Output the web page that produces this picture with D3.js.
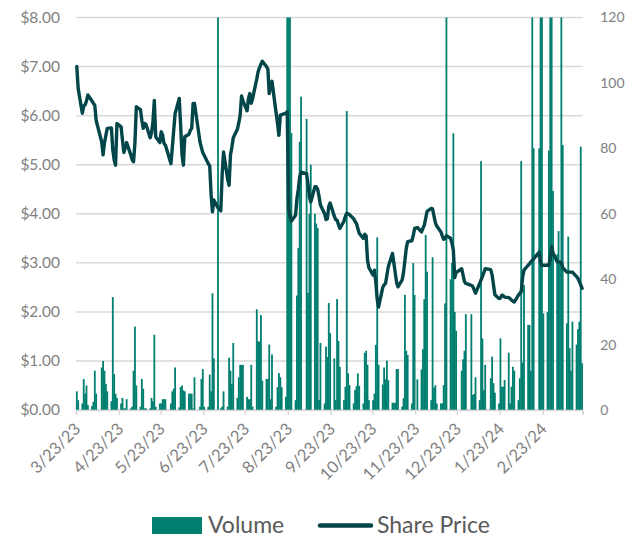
<!DOCTYPE html>
<html>
<head>
<meta charset="utf-8">
<script src="https://cdn.jsdelivr.net/npm/d3@7"></script>
<style>
  body { margin: 0; background: #fff; }
  text { font-family: Lato, "Open Sans", sans-serif; }
</style>
</head>
<body>
<div id="chart"></div>
<script>
const width = 625;
const height = 537;
const margin = {top: 17.5, right: 42.3, bottom: 127, left: 76};

// trading calendar
const startDate = "2023-03-23";
const endDate = "2024-03-22";
const holidays = ["2023-04-07", "2023-05-29", "2023-06-19", "2023-07-04", "2023-09-04",
  "2023-11-23", "2023-12-25", "2024-01-01", "2024-01-15", "2024-02-19"];
const monthTicks = ["2023-03-23", "2023-04-23", "2023-05-23", "2023-06-23", "2023-07-23",
  "2023-08-23", "2023-09-23", "2023-10-23", "2023-11-23", "2023-12-23", "2024-01-23",
  "2024-02-23", "2024-03-23"];
const priceTicks = [0, 1, 2, 3, 4, 5, 6, 7, 8];
const volumeTicks = [0, 20, 40, 60, 80, 100, 120];

// daily volume, one row per month
const volume = [
  5.7, 3, 2, 9.5, 5, 7.5, 1.5,
  1.2, 2.5, 12, 5, 13, 15, 12, 8, 5.7, 2.7, 34.5, 11, 5, 3.7, 2, 3.7, 0.5, 0.5, 3.3,
  0.5, 1, 12, 25.5, 7.5, 1, 9.5, 6.5, 0.5, 0.5, 0.5, 3.7, 2.7, 23, 1, 2, 2, 3.3, 3.3, 3.3, 2, 5.7,
  6.5, 13, 0.8, 7, 7.5, 6, 5.7, 5, 5, 5, 0.5, 10, 1, 9.5, 12.5, 1, 1, 10.8, 5.7, 35.7, 15.8,
  130, 0.5, 1, 5.7, 1, 16, 12, 8, 20.5, 3.7, 10, 13.8, 13.8, 13.8, 4, 3.3, 3.3, 13.8, 1, 30.8,
  21, 20.9, 29, 9, 9.5, 9.5, 20, 3.3, 17, 1, 7, 11.3, 10, 7, 4, 125, 140, 125, 84.7, 3, 35, 49.5, 82,
  95.8, 89, 35.8, 60, 75, 60, 57, 55.6, 3, 20.5, 2, 19.4, 16.2, 32.7, 23.5, 15.8, 3, 33.9, 21.1, 13.2,
  3, 7.1, 91.4, 11.2, 7.6, 2, 6.1, 7.3, 11.2, 7.4, 2, 17.5, 18.1, 13.8, 3, 3, 5, 19.9, 52.8, 13.8, 7.8, 13,
  9.4, 15.1, 9.1, 2.2, 2.2, 2.2, 12.5, 12.5, 1, 3.6, 35.2, 18.1, 16.8, 2, 44.9, 35.2, 9.4, 12.4, 18.6, 33.9, 53.5,
  42.3, 3, 46.7, 6.8, 7.6, 2, 2, 2, 7.6, 32.6, 130, 40, 45, 84.6, 30, 24.2, 12, 15.5, 18.1, 29.3,
  29.3, 4.6, 4.9, 10, 3, 76.1, 21.9, 6.1, 13.8, 9.7, 16.3, 8.2, 5.3, 2, 21.9, 7.1, 7.1, 9.2, 17.5, 2, 7.1,
  13.2, 12, 3, 9.7, 76.1, 14.5, 38.2, 26, 26, 12, 125, 80, 80, 125, 125, 29.5, 30, 79.3, 125, 125,
  67, 47.6, 54.7, 45, 125, 81, 26.5, 53, 18.9, 12, 27, 20, 24.7, 27, 80.5, 14.3
];

// daily closing share price, one row per month
const price = [
  7.00, 6.55, 6.05, 6.20, 6.22, 6.30, 6.42,
  6.30, 6.25, 6.21, 5.90, 5.46, 5.20, 5.45, 5.60, 5.74, 5.75, 5.30, 5.10, 4.99, 5.84, 5.77, 5.50, 5.25, 5.35, 5.45,
  5.20, 5.10, 5.06, 5.45, 6.18, 6.12, 5.90, 5.74, 5.84, 5.82, 5.55, 5.65, 5.87, 6.31, 5.57, 5.45, 5.67, 5.60, 5.43, 5.40, 5.02, 5.35,
  5.70, 6.04, 6.35, 5.80, 5.20, 4.99, 5.57, 5.62, 5.70, 5.74, 6.25, 6.25, 5.46, 5.35, 5.25, 5.19, 5.02, 4.98, 4.40, 4.04, 4.28,
  4.12, 4.06, 4.80, 5.26, 4.70, 4.58, 5.20, 5.35, 5.55, 5.72, 5.85, 6.01, 6.40, 6.30, 6.10, 6.35, 6.45, 6.25, 6.35, 6.75,
  6.90, 6.98, 7.05, 7.11, 7.00, 6.95, 6.45, 6.60, 6.70, 6.05, 5.84, 5.60, 6.01, 6.02, 6.05, 6.08, 4.10, 3.95, 3.85, 3.97, 4.30, 4.50, 4.75,
  4.85, 4.82, 4.60, 4.35, 4.24, 4.55, 4.55, 4.50, 4.35, 4.18, 4.00, 3.88, 3.90, 4.15, 4.22, 3.95, 3.88, 3.87, 3.78, 3.70,
  3.85, 3.95, 4.01, 4.00, 3.98, 3.90, 3.84, 3.80, 3.70, 3.60, 3.50, 3.58, 3.55, 3.05, 2.90, 2.75, 2.85, 2.60, 2.25, 2.10, 2.50, 2.55,
  2.58, 2.75, 2.92, 3.19, 3.00, 2.80, 2.60, 2.51, 2.65, 2.80, 3.05, 3.30, 3.43, 3.45, 3.55, 3.70, 3.72, 3.63, 3.70, 3.77, 3.90,
  4.05, 4.11, 4.10, 3.95, 3.82, 3.75, 3.63, 3.55, 3.48, 3.50, 3.55, 3.50, 3.40, 3.25, 2.70, 2.80, 2.88, 2.75, 2.62, 2.58,
  2.54, 2.52, 2.45, 2.38, 2.58, 2.65, 2.72, 2.80, 2.88, 2.86, 2.75, 2.55, 2.35, 2.27, 2.28, 2.34, 2.33, 2.30, 2.29, 2.27, 2.24,
  2.22, 2.20, 2.34, 2.38, 2.41, 2.70, 2.85, 2.95, 2.98, 3.02, 3.05, 3.08, 3.22, 3.00, 2.95, 2.95, 2.95, 2.95, 3.10, 3.33,
  3.20, 3.02, 3.02, 3.02, 3.00, 2.90, 2.81, 2.81, 2.81, 2.81, 2.81, 2.72, 2.68, 2.62, 2.55, 2.48
];

const parse = d3.utcParse("%Y-%m-%d");
const holidaySet = new Set(holidays);
const dates = d3.utcDay.range(parse(startDate), d3.utcDay.offset(parse(endDate), 1))
  .filter(d => d.getUTCDay() !== 0 && d.getUTCDay() !== 6 && !holidaySet.has(d3.utcFormat("%Y-%m-%d")(d)));
console.log("days", dates.length, volume.length, price.length);

const data = dates.map((d, i) => ({date: d, volume: volume[i], price: price[i]}));

const svg = d3.select("#chart")
  .append("svg")
  .attr("width", width)
  .attr("height", height);

const x = d3.scaleUtc()
  .domain([parse(monthTicks[0]), parse(monthTicks[monthTicks.length - 1])])
  .range([margin.left, width - margin.right]);
const yPrice = d3.scaleLinear().domain([0, 8]).range([height - margin.bottom, margin.top]);
const yVol = d3.scaleLinear().domain([0, 120]).range([height - margin.bottom, margin.top]).clamp(true);

const grey = "#d9d9d9";
const labelColor = "#7f7f7f";
const barColor = "#007f70";
const lineColor = "#03464a";

// gridlines
svg.append("g")
  .selectAll("line")
  .data(priceTicks)
  .join("line")
  .attr("x1", margin.left)
  .attr("x2", width - margin.right)
  .attr("y1", d => yPrice(d))
  .attr("y2", d => yPrice(d))
  .attr("stroke", grey)
  .attr("stroke-width", 1.5);

// left axis
const leftAxis = svg.append("g")
  .attr("transform", `translate(${margin.left - 16},0)`)
  .call(d3.axisLeft(yPrice).tickValues(priceTicks).tickSize(0).tickPadding(0)
    .tickFormat(d => "$" + d3.format(".2f")(d)));
leftAxis.select(".domain").remove();
leftAxis.selectAll("text").attr("fill", labelColor).style("font-size", "15.5px");

// right axis
const rightAxis = svg.append("g")
  .attr("transform", `translate(${width - margin.right + 17.5},0)`)
  .call(d3.axisRight(yVol).tickValues(volumeTicks).tickSize(0).tickPadding(0));
rightAxis.select(".domain").remove();
rightAxis.selectAll("text").attr("fill", labelColor).style("font-size", "14px");

// volume bars
svg.append("g")
  .selectAll("rect")
  .data(data)
  .join("rect")
  .attr("x", d => x(d.date) - 0.1)
  .attr("width", 1.8)
  .attr("y", d => yVol(d.volume))
  .attr("height", d => yVol(0) - yVol(d.volume))
  .attr("fill", barColor);

// x axis
const xAxis = svg.append("g")
  .attr("transform", `translate(0,${height - margin.bottom})`)
  .call(d3.axisBottom(x)
    .tickValues(monthTicks.map(parse))
    .tickSize(5)
    .tickFormat((d, i) => i < monthTicks.length - 1 ? d3.utcFormat("%-m/%-d/%y")(d) : ""));
xAxis.select(".domain").attr("stroke", grey).attr("stroke-width", 1.5);
xAxis.selectAll(".tick line").attr("stroke", grey).attr("stroke-width", 1.5);
xAxis.selectAll("text")
  .attr("fill", labelColor)
  .style("font-size", "16.5px")
  .attr("text-anchor", "end")
  .attr("transform", "translate(1,16) rotate(-45)")
  .attr("dy", "0.35em")
  .attr("y", 0)
  .attr("x", 0);

// share price line
svg.append("path")
  .datum(data)
  .attr("fill", "none")
  .attr("stroke", lineColor)
  .attr("stroke-width", 3.4)
  .attr("stroke-linejoin", "round")
  .attr("stroke-linecap", "round")
  .attr("d", d3.line().x(d => x(d.date) + 0.8).y(d => yPrice(d.price)));

// legend
const legend = svg.append("g");
legend.append("rect")
  .attr("x", 152).attr("y", 517).attr("width", 50).attr("height", 17)
  .attr("fill", barColor);
legend.append("text")
  .attr("x", 208).attr("y", 525).attr("dy", "0.35em")
  .attr("fill", "#595959").style("font-size", "23px")
  .text("Volume");
legend.append("line")
  .attr("x1", 320).attr("x2", 371).attr("y1", 525.5).attr("y2", 525.5)
  .attr("stroke", lineColor).attr("stroke-width", 4.5).attr("stroke-linecap", "round");
legend.append("text")
  .attr("x", 377).attr("y", 525).attr("dy", "0.35em")
  .attr("fill", "#595959").style("font-size", "23px")
  .text("Share Price");
</script>
</body>
</html>
